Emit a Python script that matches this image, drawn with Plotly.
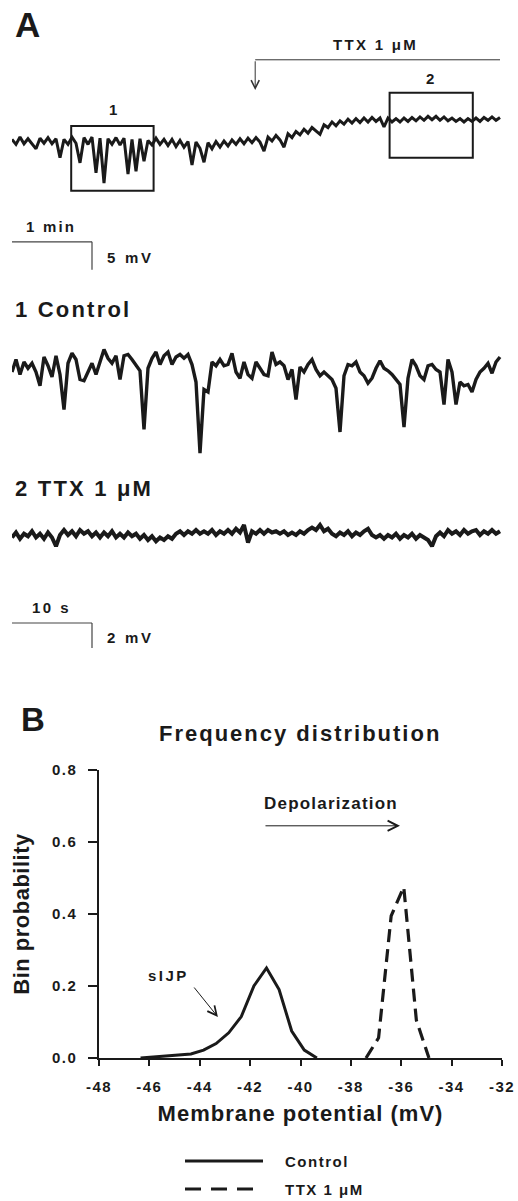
import plotly.graph_objects as go

W, H = 518, 1201
FONT = "Liberation Sans, Arial, Helvetica, sans-serif"
INK = "#1a1a1a"

# ---------------- data ----------------
# Panel A overview recording (membrane potential, mV), sampled every 0.05 min
overview_dt_min = 0.05
overview_mv = [
    -41.0, -41.9, -40.6, -41.8, -40.9, -41.7, -42.7, -40.8, -41.7, -40.7,
    -41.8, -40.9, -44.3, -41.0, -41.9, -40.6, -41.7, -45.2, -40.7, -41.9,
    -40.6, -47.0, -40.8, -48.8, -40.9, -41.9, -40.7, -42.0, -40.8, -47.2,
    -41.0, -46.7, -40.9, -44.9, -41.2, -42.0, -40.8, -41.9, -41.0, -42.1,
    -41.0, -42.3, -41.2, -42.4, -41.4, -45.6, -41.5, -42.6, -45.1, -41.6,
    -42.7, -41.4, -42.4, -41.3, -42.2, -41.1, -41.9, -40.9, -41.8, -40.8,
    -41.6, -40.7, -41.5, -43.1, -40.6, -41.3, -40.3, -41.1, -42.4, -40.0,
    -40.7, -39.6, -40.2, -39.2, -39.9, -38.9, -39.5, -40.1, -38.4, -38.9,
    -37.9, -38.6, -37.7, -38.3, -37.4, -38.1, -37.3, -38.0, -37.2, -37.9,
    -37.1, -37.8, -37.2, -38.8, -37.2, -37.9, -37.3, -37.9, -37.2, -37.8,
    -37.1, -37.7, -37.0, -37.6, -36.9, -37.5, -36.9, -37.6, -37.0, -37.7,
    -37.2, -37.8, -37.3, -37.9, -37.3, -37.8, -37.2, -37.8, -37.1, -37.6,
    -37.0, -37.6, -37.1]

# Expanded control recording (window 1), sampled every 0.5 s
control_dt_s = 0.5
control_mv = [
    -41.7, -40.7, -41.9, -40.9, -41.4, -41.0, -41.7, -42.8, -40.5, -41.2,
    -42.1, -40.4, -41.9, -44.7, -41.0, -40.2, -40.7, -42.3, -42.4, -41.7,
    -41.0, -41.9, -41.0, -39.9, -40.6, -41.0, -40.4, -42.3, -40.4, -40.3,
    -40.7, -41.1, -41.6, -46.3, -41.4, -40.6, -40.1, -41.1, -40.4, -40.1,
    -41.1, -40.5, -40.3, -40.6, -40.3, -41.1, -42.5, -48.2, -43.1, -43.3,
    -40.9, -41.2, -40.7, -41.2, -41.1, -40.2, -41.7, -42.2, -40.9, -41.9,
    -42.2, -40.9, -41.4, -41.9, -42.0, -40.1, -41.1, -40.9, -41.2, -42.3,
    -41.5, -43.9, -41.3, -41.7, -41.1, -40.7, -41.5, -42.0, -41.7, -42.0,
    -42.3, -43.0, -46.5, -42.0, -41.1, -41.2, -40.9, -41.7, -42.0, -42.6,
    -42.2, -41.4, -40.8, -41.4, -41.6, -41.9, -42.3, -42.7, -46.1, -42.2,
    -40.7, -41.2, -42.0, -42.3, -41.2, -41.1, -41.5, -41.7, -44.3, -40.7,
    -41.7, -44.3, -42.5, -42.8, -42.7, -43.3, -42.3, -41.7, -41.4, -41.0,
    -41.8, -40.9, -40.5]

# Expanded TTX recording (window 2), sampled every 0.5 s
ttx_dt_s = 0.5
ttx_mv = [
    -36.2, -35.8, -36.3, -35.9, -36.1, -35.7, -36.2, -35.9, -36.3, -35.8,
    -36.2, -36.9, -36.0, -35.6, -36.0, -35.7, -36.1, -35.6, -35.9, -35.7,
    -36.1, -35.8, -36.2, -35.8, -36.1, -35.7, -36.2, -35.9, -36.2, -35.8,
    -36.1, -35.9, -36.3, -36.0, -36.4, -36.1, -36.5, -36.2, -36.4, -36.1,
    -36.3, -35.9, -35.7, -36.0, -35.7, -35.9, -35.6, -35.9, -35.7, -35.9,
    -35.6, -36.0, -35.7, -35.9, -35.6, -35.9, -35.5, -35.8, -35.2, -36.6,
    -35.7, -35.9, -35.6, -35.9, -35.6, -35.8, -35.7, -35.9, -35.7, -36.0,
    -35.8, -36.0, -35.7, -35.9, -35.6, -35.4, -35.6, -35.2, -35.7, -35.5,
    -35.9, -36.1, -35.8, -36.0, -35.7, -36.1, -35.8, -36.0, -35.7, -35.5,
    -36.0, -36.2, -36.0, -36.3, -36.0, -36.2, -35.9, -36.3, -36.0, -36.2,
    -35.9, -36.3, -36.0, -36.2, -36.4, -36.9, -36.1, -35.8, -36.1, -35.6,
    -35.9, -35.7, -36.0, -35.6, -35.9, -35.7, -35.6, -36.0, -35.7, -35.9,
    -35.6, -35.9, -35.7]

# Analysed windows and drug application (overview coordinates)
box1_min = [0.74, 1.77]
box1_mv = [-50.2, -38.6]
box2_min = [4.72, 5.76]
box2_mv = [-44.3, -32.7]
ttx_onset_min = 3.04
ttx_end_min = 6.1
ttx_bar_mv = -26.8

# Scale bars
overview_bar = {"time_min": 1, "mv": 5}
expanded_bar = {"time_s": 10, "mv": 2}

# Panel B frequency distribution
hist_control_mv = [-46.35, -45.85, -45.35, -44.85, -44.35, -43.85, -43.35, -42.85,
                   -42.35, -41.85, -41.35, -40.85, -40.35, -39.85, -39.35]
hist_control_p = [0.0, 0.003, 0.005, 0.007, 0.011, 0.022, 0.04, 0.07,
                  0.115, 0.20, 0.25, 0.19, 0.075, 0.022, 0.0]
hist_ttx_mv = [-37.4, -36.9, -36.4, -35.9, -35.4, -34.9]
hist_ttx_p = [0.0, 0.056, 0.395, 0.475, 0.105, 0.0]

x_ticks = [-48, -46, -44, -42, -40, -38, -36, -34, -32]
y_ticks = [0.0, 0.2, 0.4, 0.6, 0.8]


# ---------------- helpers ----------------
def px(x):
    return x / W


def py(y):
    return 1 - y / H


def sp(text, ls):
    return f'<span style="letter-spacing:{ls}px">{text}</span>' if ls else text


def font(size):
    return dict(family=FONT, size=size, color=INK, weight="bold")


annotations = []


def label(text, x, y, size, xanchor="center", ls=0, xref="paper", yref="paper"):
    if xref == "paper":
        x = px(x)
    if yref == "paper":
        y = py(y)
    annotations.append(dict(text=sp(text, ls), x=x, y=y, xref=xref, yref=yref,
                            xanchor=xanchor, yanchor="middle", showarrow=False,
                            font=font(size)))


fig = go.Figure()

# ---------------- traces ----------------
fig.add_trace(go.Scatter(
    x=[i * overview_dt_min for i in range(len(overview_mv))], y=overview_mv,
    mode="lines", line=dict(color=INK, width=3), xaxis="x", yaxis="y",
    showlegend=False, hoverinfo="skip"))
fig.add_trace(go.Scatter(
    x=[i * control_dt_s for i in range(len(control_mv))], y=control_mv,
    mode="lines", line=dict(color=INK, width=3.4), xaxis="x2", yaxis="y2",
    showlegend=False, hoverinfo="skip"))
fig.add_trace(go.Scatter(
    x=[i * ttx_dt_s for i in range(len(ttx_mv))], y=ttx_mv,
    mode="lines", line=dict(color=INK, width=4), xaxis="x3", yaxis="y3",
    showlegend=False, hoverinfo="skip"))
fig.add_trace(go.Scatter(
    x=hist_control_mv, y=hist_control_p, name="Control", mode="lines",
    line=dict(color=INK, width=3), xaxis="x4", yaxis="y4", showlegend=False))
fig.add_trace(go.Scatter(
    x=hist_ttx_mv, y=hist_ttx_p, name="TTX 1 μM", mode="lines",
    line=dict(color=INK, width=3.2, dash="13px,7px"), xaxis="x4", yaxis="y4",
    showlegend=False))

# ---------------- shapes ----------------
shapes = []
for (t0, t1), (v0, v1) in [(box1_min, box1_mv), (box2_min, box2_mv)]:
    shapes.append(dict(type="rect", xref="x", yref="y", x0=t0, x1=t1, y0=v0, y1=v1,
                       line=dict(color=INK, width=2), fillcolor="rgba(0,0,0,0)"))
shapes.append(dict(type="line", xref="x", yref="y", x0=ttx_onset_min, x1=ttx_end_min,
                   y0=ttx_bar_mv, y1=ttx_bar_mv, line=dict(color="#333", width=1)))

# overview scale bar
sb_v = -59.3
shapes.append(dict(type="line", xref="x", yref="y", x0=0, x1=overview_bar["time_min"],
                   y0=sb_v, y1=sb_v, line=dict(color="#444", width=1.2)))
shapes.append(dict(type="line", xref="x", yref="y", x0=overview_bar["time_min"],
                   x1=overview_bar["time_min"], y0=sb_v, y1=sb_v - overview_bar["mv"],
                   line=dict(color="#444", width=1.2)))
# expanded scale bar
sb2_v = -43.04
shapes.append(dict(type="line", xref="x3", yref="y3", x0=0, x1=expanded_bar["time_s"],
                   y0=sb2_v, y1=sb2_v, line=dict(color="#444", width=1.2)))
shapes.append(dict(type="line", xref="x3", yref="y3", x0=expanded_bar["time_s"],
                   x1=expanded_bar["time_s"], y0=sb2_v, y1=sb2_v - expanded_bar["mv"],
                   line=dict(color="#444", width=1.2)))

# legend samples
shapes.append(dict(type="line", xref="paper", yref="paper", x0=px(185), x1=px(263),
                   y0=py(1161), y1=py(1161), line=dict(color=INK, width=3)))
shapes.append(dict(type="line", xref="paper", yref="paper", x0=px(185), x1=px(263),
                   y0=py(1189), y1=py(1189),
                   line=dict(color=INK, width=3.2, dash="16px,10px")))

# ---------------- annotations ----------------
label("A", 13, 25, 35, xanchor="left")
label("TTX 1 μM", 375, 45, 15, ls=2.3)
label("1", 112.5, 110, 15)
label("2", 430, 78, 15)
label("1 min", 51, 226.5, 15, ls=2.2)
label("5 mV", 105, 257.5, 15, xanchor="left", ls=2.7)
label("1 Control", 13, 309, 22, xanchor="left", ls=2.2)
label("2 TTX 1 μM", 13, 488, 22, xanchor="left", ls=2.2)
label("10 s", 51.5, 607, 15, ls=2.5)
label("2 mV", 105, 637.5, 15, xanchor="left", ls=2.7)
label("B", 19, 719, 33, xanchor="left")
label("Frequency distribution", 300, 733, 22, ls=2)
label("Control", 283, 1161, 15, xanchor="left", ls=1.5)
label("TTX 1 μM", 283, 1189, 15, xanchor="left", ls=1.5)
label("Depolarization", -38.8, 0.708, 17, ls=1.2, xref="x4", yref="y4")
label("sIJP", -45.26, 0.23, 15, ls=2.5, xref="x4", yref="y4")

# arrows
annotations.append(dict(x=ttx_onset_min, y=-32.2, ax=ttx_onset_min, ay=ttx_bar_mv,
                        xref="x", yref="y", axref="x", ayref="y", text="",
                        showarrow=True, arrowhead=5, arrowsize=1.6, arrowwidth=1,
                        arrowcolor="#333"))
annotations.append(dict(x=-36.05, y=0.645, ax=-41.45, ay=0.645,
                        xref="x4", yref="y4", axref="x4", ayref="y4", text="",
                        showarrow=True, arrowhead=5, arrowsize=2, arrowwidth=1,
                        arrowcolor=INK))
annotations.append(dict(x=-43.28, y=0.114, ax=-44.27, ay=0.2,
                        xref="x4", yref="y4", axref="x4", ayref="y4", text="",
                        showarrow=True, arrowhead=5, arrowsize=1.8, arrowwidth=1,
                        arrowcolor=INK))

# ---------------- axes ----------------
hidden = dict(visible=False, showgrid=False, zeroline=False, fixedrange=True)
trace_xdom = [px(12), px(502)]

fig.update_layout(
    width=W, height=H, margin=dict(l=0, r=0, t=0, b=0, autoexpand=False),
    paper_bgcolor="white", plot_bgcolor="rgba(0,0,0,0)",
    showlegend=False,
    xaxis=dict(hidden, domain=trace_xdom, range=[0, 6.125], anchor="y"),
    yaxis=dict(hidden, domain=[py(280), py(30)], range=[-66.12, -21.48], anchor="x"),
    xaxis2=dict(hidden, domain=trace_xdom, range=[0, 61.25], anchor="y2"),
    yaxis2=dict(hidden, domain=[py(470), py(325)], range=[-49.54, -37.94], anchor="x2"),
    xaxis3=dict(hidden, domain=trace_xdom, range=[0, 61.25], anchor="y3"),
    yaxis3=dict(hidden, domain=[py(655), py(505)], range=[-45.6, -33.6], anchor="x3"),
    xaxis4=dict(domain=[px(99), px(502)], range=[-48, -32], anchor="y4",
                showgrid=False, zeroline=False, showline=True, linecolor=INK,
                linewidth=1.5, ticks="outside", ticklen=6, tickwidth=1.5,
                tickcolor=INK, tickvals=x_ticks,
                ticktext=[sp(str(v), 1.5) for v in x_ticks],
                tickfont=font(15), ticklabelstandoff=8,
                title=dict(text=sp("Membrane potential (mV)", 1), font=font(22),
                           standoff=12)),
    yaxis4=dict(domain=[py(1058), py(770)], range=[0, 0.8], anchor="x4",
                showgrid=False, zeroline=False, showline=True, linecolor=INK,
                linewidth=1.5, ticks="outside", ticklen=9, tickwidth=1.5,
                tickcolor=INK, tickvals=y_ticks,
                ticktext=[sp(f"{v:.1f}", 1.5) for v in y_ticks],
                tickfont=font(15), ticklabelstandoff=8,
                title=dict(text=sp("Bin probability", 0.5), font=font(22),
                           standoff=16)),
    shapes=shapes,
    annotations=annotations,
)

fig.write_html(
    "out.html",
    config={"displayModeBar": False},
    post_script="document.documentElement.style.margin='0';"
                "document.body.style.margin='0';document.body.style.padding='0';",
)
